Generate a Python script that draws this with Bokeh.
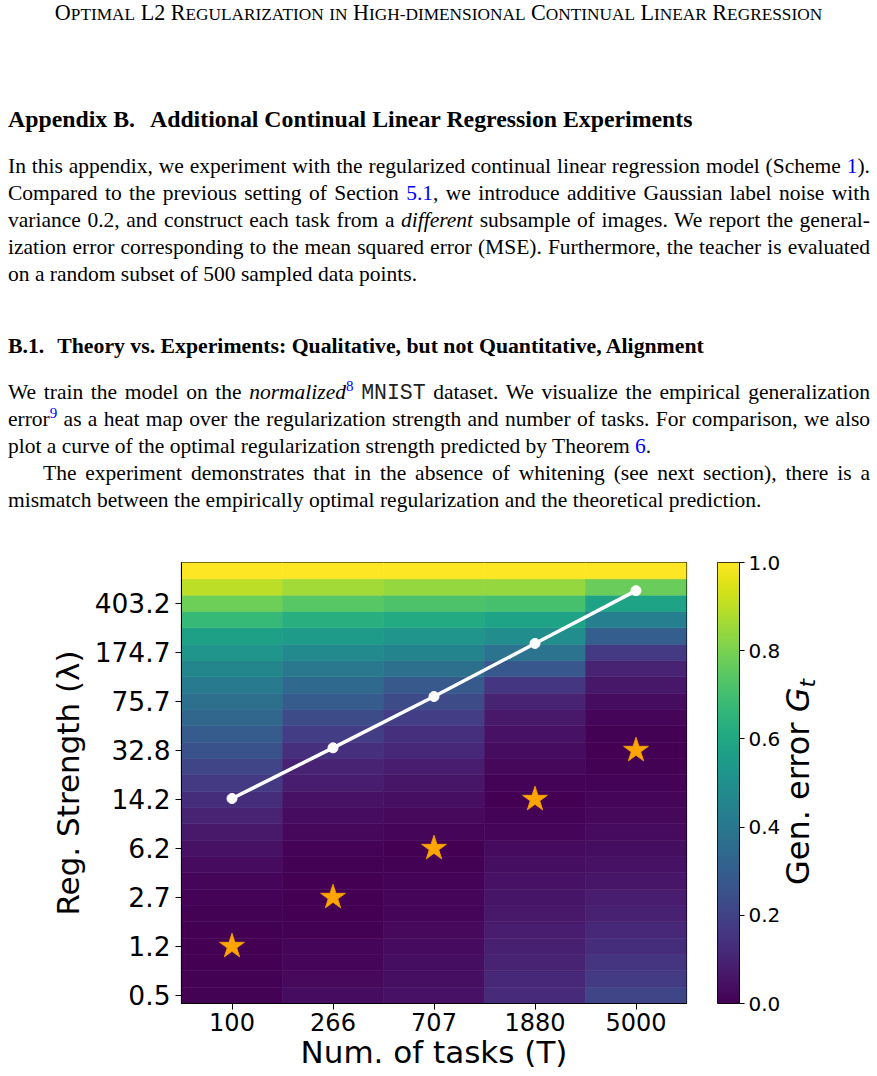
import numpy as np
from bokeh.plotting import figure
from bokeh.models import (ColumnDataSource, FactorRange, Range1d, FixedTicker,
                          PrintfTickFormatter, LinearColorMapper, Div)
from bokeh.layouts import column, row
from bokeh.palettes import Viridis256
from bokeh.transform import linear_cmap
from bokeh.embed import file_html
from bokeh.resources import INLINE

# ---------------------------------------------------------------- data
tasks = ["100", "266", "707", "1880", "5000"]

# regularization grid (bottom row first)
reg_strength = [0.5, 0.66081, 0.87334, 1.15423, 1.52544, 2.01605, 2.66450,
                3.52139, 4.65394, 6.15074, 8.12890, 10.7433, 14.1985,
                18.7651, 24.8004, 32.7767, 43.3180, 57.2500, 75.6630,
                99.998, 132.160, 174.663, 230.840, 305.080, 403.200,
                532.880, 704.260]

# empirical generalization error, one list per number of tasks
err_100 = [0.006, 0.004, 0.002, 0.000, 0.002, 0.005, 0.010, 0.018, 0.030,
           0.050, 0.070, 0.100, 0.130, 0.170, 0.210, 0.250, 0.290, 0.330,
           0.370, 0.410, 0.460, 0.520, 0.570, 0.670, 0.780, 0.900, 1.000]
err_266 = [0.035, 0.025, 0.018, 0.012, 0.007, 0.003, 0.000, 0.002, 0.005,
           0.010, 0.020, 0.032, 0.050, 0.075, 0.100, 0.135, 0.180, 0.230,
           0.290, 0.340, 0.400, 0.480, 0.550, 0.630, 0.740, 0.860, 1.000]
err_707 = [0.050, 0.042, 0.036, 0.030, 0.024, 0.018, 0.012, 0.008, 0.004,
           0.000, 0.012, 0.025, 0.040, 0.060, 0.080, 0.110, 0.140, 0.180,
           0.230, 0.280, 0.370, 0.450, 0.520, 0.610, 0.720, 0.840, 1.000]
err_1880 = [0.120, 0.110, 0.100, 0.088, 0.078, 0.068, 0.058, 0.048, 0.038,
            0.028, 0.018, 0.008, 0.000, 0.010, 0.020, 0.035, 0.050, 0.070,
            0.100, 0.160, 0.270, 0.380, 0.490, 0.580, 0.710, 0.840, 1.000]
err_5000 = [0.210, 0.175, 0.150, 0.130, 0.110, 0.092, 0.076, 0.062, 0.050,
            0.038, 0.030, 0.022, 0.016, 0.010, 0.004, 0.000, 0.004, 0.015,
            0.035, 0.065, 0.100, 0.170, 0.300, 0.430, 0.580, 0.770, 1.000]

# optimal regularization predicted by the theory
theory_lambda = [14.4, 34.2, 82.1, 203.2, 500.6]

cbar_ticks = [0.0, 0.2, 0.4, 0.6, 0.8, 1.0]

# ---------------------------------------------------------------- heat map cells
errors = [err_100, err_266, err_707, err_1880, err_5000]
lam = np.array(reg_strength)
mid = np.sqrt(lam[:-1] * lam[1:])
lo = np.concatenate([[lam[0] ** 2 / mid[0]], mid])
hi = np.concatenate([mid, [lam[-1] ** 2 / mid[-1]]])

cell = dict(task=[], lo=[], hi=[], err=[])
for t, col in zip(tasks, errors):
    for k, e in enumerate(col):
        cell["task"].append(t)
        cell["lo"].append(lo[k])
        cell["hi"].append(hi[k])
        cell["err"].append(e)
cells = ColumnDataSource(cell)

# empirical optimum of every column
best_lambda = [reg_strength[int(np.argmin(col))] for col in errors]

FONT = "DejaVu Sans"
cmap = linear_cmap("err", Viridis256, 0, 1)

p = figure(width=700, height=546,
           x_range=FactorRange(*tasks), y_range=Range1d(lo[0], hi[-1]),
           y_axis_type="log", output_backend="svg", toolbar_location=None,
           min_border_left=181, min_border_right=14,
           min_border_top=32, min_border_bottom=73)
p.vbar(x="task", width=1, bottom="lo", top="hi", source=cells,
       fill_color=cmap, line_color=cmap, line_width=0.6)

p.line(tasks, theory_lambda, line_color="white", line_width=3.5)
p.scatter(tasks, theory_lambda, size=10, fill_color="white", line_color="white")
p.scatter(tasks, best_lambda, marker="star", size=26,
          fill_color="orange", line_color="#f09a00", line_width=1)

p.grid.visible = False
p.outline_line_color = "black"
p.outline_line_width = 1.2

p.xaxis.axis_label = "Num. of tasks (T)"
p.yaxis.axis_label = "Reg. Strength (\u03bb)"
p.yaxis.ticker = FixedTicker(ticks=reg_strength[::3])
p.yaxis.formatter = PrintfTickFormatter(format="%.1f")
for ax in (p.xaxis[0], p.yaxis[0]):
    ax.axis_label_text_font = FONT
    ax.axis_label_text_font_size = "31px"
    ax.axis_label_text_font_style = "normal"
    ax.axis_label_text_color = "black"
    ax.major_label_text_font = FONT
    ax.major_label_text_color = "black"
    ax.major_tick_in = 0
    ax.major_tick_out = 6
    ax.minor_tick_in = 0
    ax.minor_tick_out = 0
    ax.major_tick_line_color = "black"
    ax.axis_line_color = "black"
p.xaxis.major_label_text_font_size = "24px"
p.xaxis.major_label_standoff = 3
p.xaxis.axis_label_standoff = 0
p.yaxis.major_label_text_font_size = "26.5px"
p.yaxis.major_label_standoff = 5
p.yaxis.axis_label_standoff = 6

# ---------------------------------------------------------------- colour bar
cb = figure(width=84, height=546, x_range=Range1d(0, 1), y_range=Range1d(0, 1),
            output_backend="svg", toolbar_location=None,
            x_axis_location=None, y_axis_location="right",
            min_border_left=17, min_border_right=45,
            min_border_top=32, min_border_bottom=73)
cb.image(image=[np.linspace(0, 1, 256).reshape(-1, 1)], x=0, y=0, dw=1, dh=1,
         color_mapper=LinearColorMapper(palette=Viridis256, low=0, high=1))
cb.grid.visible = False
cb.outline_line_color = "black"
cb.outline_line_width = 1
cb.yaxis.ticker = FixedTicker(ticks=cbar_ticks)
cb.yaxis.formatter = PrintfTickFormatter(format="%.1f")
cb.yaxis.major_label_text_font = FONT
cb.yaxis.major_label_text_font_size = "20px"
cb.yaxis.major_label_text_color = "black"
cb.yaxis.major_tick_in = 0
cb.yaxis.major_tick_out = 5
cb.yaxis.minor_tick_out = 0
cb.yaxis.major_label_standoff = 4
cb.yaxis.axis_line_color = "black"

# colour bar title, written upward
cb_title = Div(
    text=('<div style="position:relative;width:93px;height:546px;">'
          '<div style="position:absolute;left:16px;top:252px;'
          'transform:translate(-50%,-50%) rotate(-90deg);white-space:nowrap;'
          "font-family:'DejaVu Sans';font-size:32px;line-height:32px;"
          'color:black;">Gen. error <i>G</i><span style="font-style:italic;'
          'font-size:22px;position:relative;top:6px;">t</span></div></div>'),
    width=93, height=546, margin=0)

# ---------------------------------------------------------------- page text
BLUE = "#0000ff"
SERIF = "'Liberation Serif', 'Times New Roman', serif"


def ref(t):
    return f'<span style="color:{BLUE}">{t}</span>'


def foot(t):
    return (f'<span style="color:{BLUE};font-size:15px;position:relative;'
            f'top:-8px">{t}</span>')


def small_caps(text, big, small):
    out, buf, kind = [], "", None
    for ch in text + "\0":
        k = "big" if (ch.isupper() or ch.isdigit() or ch == " ") else "small"
        if ch == "\0" or (kind is not None and k != kind):
            if kind == "big":
                out.append(f'<span style="font-size:{big}px">{buf}</span>')
            elif kind == "small":
                out.append(f'<span style="font-size:{small}px;'
                           f'text-transform:uppercase">{buf}</span>')
            buf = ""
        kind = k
        buf += ch
    return "".join(out)


def line(html, baseline, size=21.5, last=False, indent=0, bold=False,
         center=False, extra=""):
    lh = round(size * 1.25, 2)
    top = baseline - ((lh - 1.107 * size) / 2 + 0.891 * size)
    if center:
        pos = "left:0px;width:877px;text-align:center;"
    else:
        al = "left" if last else "justify"
        pos = (f"left:{8 + indent}px;width:{862 - indent}px;"
               f"text-align:{al};text-align-last:{al};")
    weight = "font-weight:bold;" if bold else ""
    return (f'<div style="position:absolute;top:{top:.2f}px;{pos}'
            f'font-size:{size}px;line-height:{lh}px;white-space:nowrap;'
            f'{weight}{extra}">{html}</div>')


mono = "<span style=\"font-family:'Liberation Mono', monospace;color:#222\">MNIST</span>"
gap = '<span style="display:inline-block;width:{}px"></span>'

parts = [
    line(small_caps("Optimal L2 Regularization in High-dimensional Continual "
                    "Linear Regression", 22.1, 17.3),
         20, size=22.1, center=True),
    line("Appendix B." + gap.format(15) +
         "Additional Continual Linear Regression Experiments",
         128, size=23.8, bold=True, last=True),
    line("In this appendix, we experiment with the regularized continual linear "
         "regression model (Scheme " + ref("1") + ").", 174),
    line("Compared to the previous setting of Section " + ref("5.1") +
         ", we introduce additive Gaussian label noise with", 201),
    line("variance 0.2, and construct each task from a <i>different</i> subsample "
         "of images. We report the general-", 228),
    line("ization error corresponding to the mean squared error (MSE). "
         "Furthermore, the teacher is evaluated", 255),
    line("on a random subset of 500 sampled data points.", 282, last=True),
    line("B.1." + gap.format(13) +
         "Theory vs. Experiments: Qualitative, but not Quantitative, Alignment",
         354, size=21.75, bold=True, last=True),
    line("We train the model on the <i>normalized</i>" + foot("8") + " " + mono +
         " dataset. We visualize the empirical generalization", 399.5),
    line("error" + foot("9") + " as a heat map over the regularization strength "
         "and number of tasks. For comparison, we also", 426.5),
    line("plot a curve of the optimal regularization strength predicted by "
         "Theorem " + ref("6") + ".", 453.5, last=True),
    line("The experiment demonstrates that in the absence of whitening "
         "(see next section), there is a", 480.5, indent=35),
    line("mismatch between the empirically optimal regularization and the "
         "theoretical prediction.", 507.5, last=True),
]

TOP_H = 530
page_text = Div(
    text=(f'<div style="position:relative;width:877px;height:{TOP_H}px;'
          f'font-family:{SERIF};color:black;">' + "".join(parts) + "</div>"),
    width=877, height=TOP_H, margin=0)

layout = column(page_text, row(p, cb, cb_title, spacing=0), spacing=0)

open("out.html", "w").write(file_html(layout, INLINE))
